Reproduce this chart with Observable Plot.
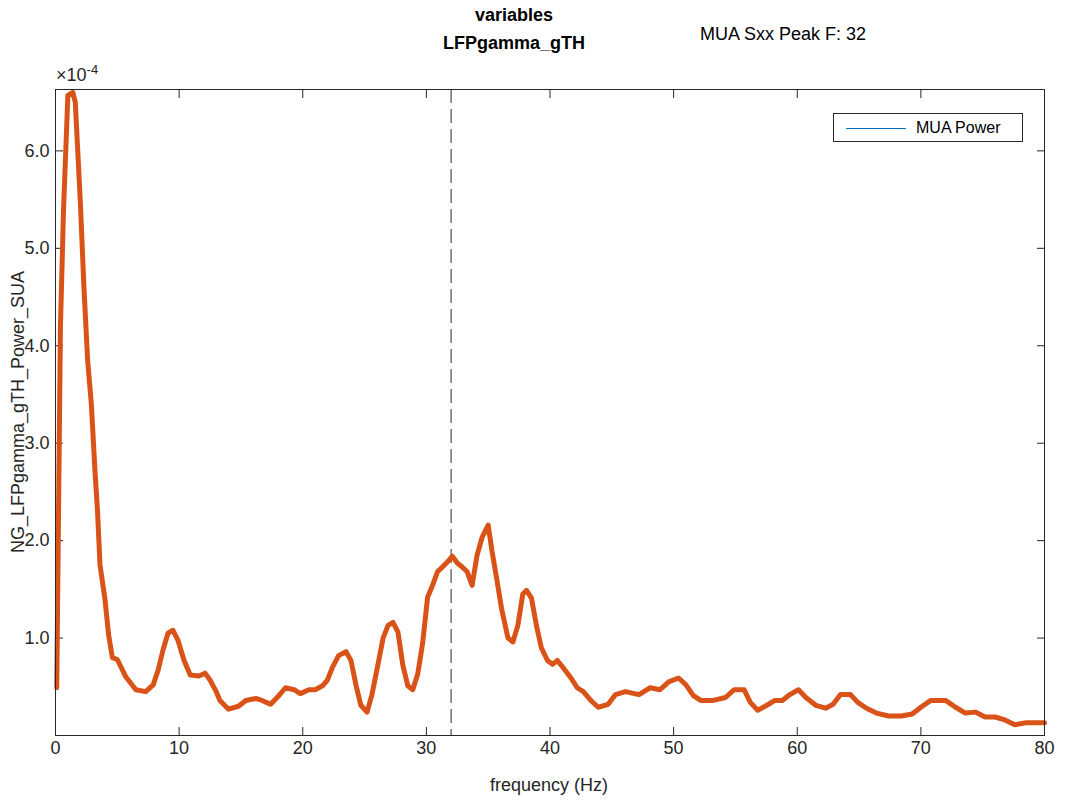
<!DOCTYPE html>
<html><head><meta charset="utf-8">
<script src="https://cdn.jsdelivr.net/npm/d3@7"></script>
<script src="https://cdn.jsdelivr.net/npm/@observablehq/plot@0.6"></script>
<style>
body{margin:0;background:#fff;font-family:"Liberation Sans",Arial,sans-serif;}
#wrap{position:relative;width:1067px;height:800px;}
.t{position:absolute;color:#000;font-size:18px;white-space:nowrap;}
</style></head><body>
<div id="wrap"></div>
<script>
const freq=[0.1,0.4,0.65,1.0,1.4,1.6,2.0,2.3,2.6,2.9,3.2,3.4,3.6,4.0,4.3,4.6,5.0,5.7,6.5,7.3,7.9,8.3,8.7,9.1,9.5,9.9,10.4,10.9,11.6,12.1,12.5,13.0,13.3,14.0,14.8,15.4,16.2,16.7,17.4,18.0,18.6,19.3,19.8,20.5,21.0,21.6,22.0,22.4,22.9,23.5,23.9,24.3,24.7,25.2,25.6,26.1,26.5,26.9,27.3,27.7,28.1,28.5,28.9,29.3,29.7,30.1,30.5,30.9,31.3,31.7,32.1,32.5,32.9,33.3,33.7,34.1,34.5,35.0,35.3,35.7,36.1,36.6,37.0,37.4,37.8,38.1,38.5,38.9,39.3,39.8,40.2,40.6,41.1,41.7,42.2,42.7,43.3,43.9,44.7,45.3,46.1,47.2,48.1,48.9,49.6,50.4,51.0,51.6,52.2,53.2,54.2,54.9,55.7,56.2,56.8,57.4,58.2,58.8,59.4,60.1,60.7,61.5,62.3,62.9,63.5,64.3,64.9,65.6,66.4,67.4,68.4,69.3,70.0,70.8,72.0,72.8,73.6,74.4,75.2,76.0,76.8,77.6,78.5,80];
const power=[0.49,4.2,5.4,6.57,6.6,6.5,5.5,4.6,3.85,3.4,2.7,2.3,1.75,1.4,1.03,0.8,0.78,0.6,0.47,0.45,0.52,0.67,0.88,1.05,1.08,0.98,0.77,0.62,0.61,0.64,0.57,0.45,0.36,0.27,0.3,0.36,0.38,0.36,0.32,0.4,0.49,0.47,0.43,0.47,0.47,0.51,0.57,0.7,0.82,0.86,0.77,0.52,0.31,0.24,0.42,0.74,1.0,1.13,1.16,1.06,0.72,0.51,0.47,0.63,0.95,1.42,1.54,1.68,1.73,1.78,1.84,1.77,1.73,1.68,1.54,1.85,2.03,2.16,1.9,1.6,1.29,1.0,0.96,1.13,1.45,1.49,1.41,1.13,0.9,0.77,0.73,0.77,0.69,0.59,0.49,0.45,0.36,0.29,0.32,0.42,0.45,0.42,0.49,0.47,0.55,0.59,0.52,0.41,0.36,0.36,0.39,0.47,0.47,0.34,0.26,0.30,0.36,0.36,0.42,0.47,0.39,0.31,0.28,0.32,0.42,0.42,0.34,0.28,0.23,0.2,0.2,0.22,0.29,0.36,0.36,0.29,0.23,0.24,0.19,0.19,0.16,0.11,0.13,0.13];
const xTicks=[0,10,20,30,40,50,60,70,80];
const yTicks=[1,2,3,4,5,6];
const peakF=32;
const data=freq.map((f,i)=>({f,p:power[i]}));
const plot=Plot.plot({
  width:1067,height:800,marginLeft:55,marginRight:23,marginTop:89,marginBottom:65,
  style:{fontFamily:"Liberation Sans, Arial, sans-serif",fontSize:"18px",color:"#262626"},
  x:{domain:[0,80]},y:{domain:[0,6.63]},
  marks:[
    Plot.axisX({ticks:xTicks,tickSize:-8,tickPadding:14,label:null}),
    Plot.axisX({ticks:xTicks,anchor:"top",tickSize:-8,tickFormat:()=>"",label:null}),
    Plot.axisY({ticks:yTicks,tickSize:-8,tickPadding:14,label:null}),
    Plot.axisY({ticks:yTicks,anchor:"right",tickSize:-8,tickFormat:()=>"",label:null}),
    Plot.ruleX([peakF],{stroke:"#262626",strokeDasharray:"14,6",strokeWidth:1}),
    Plot.line(data,{x:"f",y:"p",stroke:"#D95319",strokeWidth:5,curve:"linear"}),
    Plot.frame({stroke:"#262626"})
  ]
});
const w=document.getElementById("wrap");
w.appendChild(plot);
const add=(html,css)=>{const d=document.createElement("div");d.className="t";d.innerHTML=html;Object.assign(d.style,css);w.appendChild(d);};
add("variables",{left:"514px",top:"5px",transform:"translateX(-50%)",fontWeight:"bold"});
add("LFPgamma_gTH",{left:"514px",top:"33px",transform:"translateX(-50%)",fontWeight:"bold"});
add("MUA Sxx Peak F: 32",{left:"700px",top:"24px"});
add("×10<sup style='font-size:13px'>-4</sup>",{left:"56px",top:"62px",color:"#262626"});
add("frequency (Hz)",{left:"549px",top:"775px",transform:"translateX(-50%)",color:"#262626"});
add("NG_LFPgamma_gTH_Power_SUA",{left:"18px",top:"412px",transform:"translate(-50%,-50%) rotate(-90deg)",color:"#262626"});
add("<span style='display:inline-block;width:60px;border-top:1.5px solid #0072BD;vertical-align:middle;margin-right:10px'></span>MUA Power",
  {left:"833px",top:"113px",width:"176px",height:"27px",lineHeight:"27px",border:"1px solid #262626",background:"#fff",paddingLeft:"12px",fontSize:"16px"});
</script></body></html>
